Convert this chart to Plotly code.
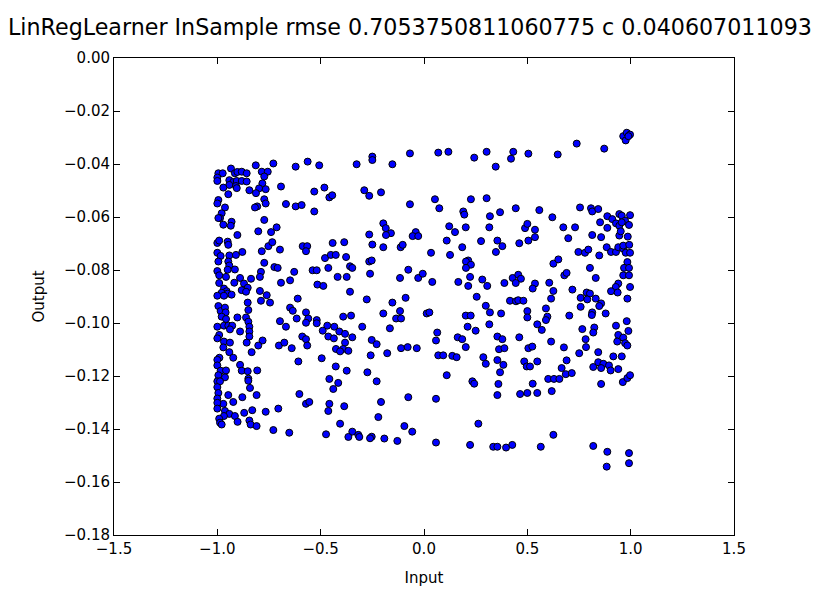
import plotly.graph_objects as go

# points, grouped by region of the plot
x_left_top = [-0.995, -0.974, -1.000, -1.000, -0.934, -0.915, -0.903, -0.882, -0.858, -0.942,
              -0.923, -0.906, -0.882, -0.858, -0.942, -0.910, -0.906, -0.971, -0.947, -0.814,
              -0.729, -0.785, -0.756, -0.773, -0.782, -0.798, -0.766, -0.845, -0.813, -0.692,
              -0.621, -0.563, -0.995, -1.000, -0.963, -0.773, -0.766, -0.807, -0.818, -0.668,
              -0.621, -0.592, -0.979, -0.987, -0.995, -0.773, -0.931, -0.971, -0.935, -0.713,
              -0.802, -0.740, -0.903]
y_left_top = [-0.0435, -0.0435, -0.0451, -0.0464, -0.0417, -0.0435, -0.0430, -0.0429, -0.0435, -0.0461,
              -0.0468, -0.0464, -0.0464, -0.0466, -0.0479, -0.0483, -0.0491, -0.0489, -0.0514, -0.0405,
              -0.0398, -0.0429, -0.0429, -0.0447, -0.0473, -0.0492, -0.0495, -0.0499, -0.0510, -0.0485,
              -0.0410, -0.0391, -0.0536, -0.0549, -0.0564, -0.0533, -0.0549, -0.0560, -0.0564, -0.0551,
              -0.0560, -0.0555, -0.0586, -0.0604, -0.0604, -0.0611, -0.0618, -0.0629, -0.0633, -0.0639,
              -0.0654, -0.0657, -0.0668]

x_left_mid = [-1.000, -0.991, -0.950, -0.947, -1.000, -0.984, -0.942, -0.910, -0.879, -0.995,
              -0.947, -0.942, -1.000, -0.991, -0.950, -0.915, -0.958, -0.785, -0.753, -0.734,
              -0.697, -0.587, -0.565, -0.571, -0.773, -0.724, -0.708, -0.789, -0.794, -0.628,
              -0.648, -0.692, -0.837, -0.890, -0.918, -0.991, -0.871, -0.853, -0.882, -0.861,
              -0.968, -0.955, -0.979, -0.950, -0.931, -1.000, -0.968, -0.794, -0.761, -0.789,
              -0.745, -0.611, -0.853, -0.995, -0.984, -0.963, -0.960, -0.850, -0.648, -0.635,
              -0.979, -0.958, -0.903, -0.861, -0.850, -0.616, -0.571, -0.560, -0.571, -0.697,
              -0.668, -1.000, -0.968, -0.947, -0.928, -0.939, -0.890, -0.845, -0.845, -0.845,
              -0.991, -1.000, -0.968, -0.939, -0.858, -0.781, -0.802, -0.702, -0.676, -0.640,
              -0.589, -0.571, -0.565, -0.971, -0.942, -0.834, -0.990, -0.923]
y_left_mid = [-0.0698, -0.0689, -0.0693, -0.0705, -0.0735, -0.0747, -0.0745, -0.0743, -0.0732, -0.0768,
              -0.0768, -0.0783, -0.0804, -0.0820, -0.0799, -0.0798, -0.0826, -0.0729, -0.0710, -0.0695,
              -0.0723, -0.0710, -0.0710, -0.0729, -0.0773, -0.0789, -0.0792, -0.0807, -0.0826, -0.0807,
              -0.0839, -0.0848, -0.0833, -0.0830, -0.0848, -0.0849, -0.0851, -0.0867, -0.0876, -0.0882,
              -0.0870, -0.0880, -0.0886, -0.0889, -0.0893, -0.0897, -0.0897, -0.0879, -0.0895, -0.0916,
              -0.0923, -0.0908, -0.0923, -0.0936, -0.0955, -0.0942, -0.0960, -0.0951, -0.0942, -0.0954,
              -0.0976, -0.0985, -0.0979, -0.0979, -0.0995, -0.0983, -0.0960, -0.0983, -0.0999, -0.0993,
              -0.1014, -0.1014, -0.1010, -0.1010, -0.1010, -0.1024, -0.1032, -0.1014, -0.1032, -0.1051,
              -0.1045, -0.1058, -0.1070, -0.1074, -0.1074, -0.1066, -0.1085, -0.1085, -0.1074, -0.1095,
              -0.1051, -0.1061, -0.1085, -0.1092, -0.1110, -0.1110, -0.1131, -0.1131]

x_left_low = [-1.000, -1.000, -0.890, -0.882, -0.984, -0.958, -0.853, -0.807, -0.995, -0.963,
              -0.850, -0.850, -1.000, -0.987, -1.000, -0.842, -0.995, -0.947, -0.810, -0.879,
              -1.000, -0.923, -0.971, -1.000, -1.000, -0.963, -0.942, -0.915, -0.968, -0.991,
              -0.987, -0.979, -0.902, -0.870, -0.831, -0.766, -0.705, -0.845, -0.839, -0.810,
              -0.729, -0.652, -0.608, -0.603, -0.571, -0.555]
y_left_low = [-0.1139, -0.1160, -0.1158, -0.1180, -0.1180, -0.1179, -0.1182, -0.1179, -0.1197, -0.1205,
              -0.1210, -0.1218, -0.1220, -0.1220, -0.1242, -0.1245, -0.1264, -0.1272, -0.1272, -0.1280,
              -0.1285, -0.1298, -0.1305, -0.1301, -0.1323, -0.1332, -0.1343, -0.1351, -0.1351, -0.1361,
              -0.1376, -0.1383, -0.1373, -0.1339, -0.1329, -0.1335, -0.1323, -0.1368, -0.1383, -0.1389,
              -0.1404, -0.1414, -0.1145, -0.1268, -0.1305, -0.1298]

x_cl_top = [-0.507, -0.326, -0.250, -0.250, -0.153, -0.068, -0.531, -0.482, -0.458, -0.444,
            -0.289, -0.265, -0.208, -0.068, -0.531, -0.197, -0.185, -0.160, -0.184, -0.265,
            -0.040, -0.055, -0.028]
y_cl_top = [-0.0405, -0.0401, -0.0372, -0.0385, -0.0401, -0.0360, -0.0504, -0.0489, -0.0526, -0.0518,
            -0.0499, -0.0520, -0.0507, -0.0552, -0.0579, -0.0624, -0.0642, -0.0661, -0.0668, -0.0666,
            -0.0657, -0.0672, -0.0672]

x_cl_mid = [-0.442, -0.386, -0.250, -0.197, -0.113, -0.103, -0.479, -0.451, -0.427, -0.377,
            -0.539, -0.519, -0.463, -0.358, -0.347, -0.265, -0.253, -0.261, -0.418, -0.374,
            -0.516, -0.487, -0.076, -0.116, -0.028, -0.358, -0.277, -0.089, -0.153, -0.116,
            -0.197, -0.135, -0.111, -0.165, -0.391, -0.353, -0.519, -0.519, -0.468, -0.434,
            -0.490, -0.410, -0.382, -0.347, -0.299, -0.463, -0.436, -0.253, -0.229, -0.382,
            -0.426, -0.391, -0.406, -0.366, -0.258, -0.178, -0.111, -0.079, -0.035, -0.495]
y_cl_mid = [-0.0698, -0.0695, -0.0704, -0.0714, -0.0714, -0.0705, -0.0755, -0.0743, -0.0743, -0.0751,
            -0.0801, -0.0801, -0.0792, -0.0786, -0.0792, -0.0768, -0.0764, -0.0814, -0.0826, -0.0826,
            -0.0855, -0.0860, -0.0799, -0.0830, -0.0830, -0.0882, -0.0911, -0.0905, -0.0923, -0.0955,
            -0.0964, -0.0983, -0.0983, -0.1020, -0.0976, -0.0972, -0.0989, -0.1001, -0.1010, -0.1014,
            -0.1029, -0.1032, -0.1041, -0.1054, -0.1014, -0.1051, -0.1058, -0.1064, -0.1080, -0.1074,
            -0.1098, -0.1098, -0.1107, -0.1105, -0.1122, -0.1114, -0.1095, -0.1091, -0.1095, -0.1133]

x_cl_low = [-0.427, -0.374, -0.274, -0.458, -0.415, -0.439, -0.229, -0.458, -0.463, -0.386,
            -0.208, -0.076, -0.221, -0.406, -0.474, -0.347, -0.318, -0.366, -0.313, -0.253,
            -0.261, -0.192, -0.129, -0.095, -0.057]
y_cl_low = [-0.1164, -0.1180, -0.1186, -0.1211, -0.1226, -0.1249, -0.1220, -0.1305, -0.1332, -0.1314,
            -0.1298, -0.1280, -0.1355, -0.1380, -0.1420, -0.1410, -0.1422, -0.1430, -0.1430, -0.1429,
            -0.1435, -0.1436, -0.1445, -0.1389, -0.1410]

x_cr_top = [0.069, 0.118, 0.243, 0.303, 0.347, 0.432, 0.421, 0.505, 0.053, 0.074,
            0.227, 0.303, 0.190, 0.195, 0.319, 0.368, 0.444, 0.122, 0.150, 0.202,
            0.316, 0.489, 0.500]
y_cr_top = [-0.0357, -0.0354, -0.0376, -0.0354, -0.0410, -0.0354, -0.0380, -0.0361, -0.0533, -0.0567,
            -0.0533, -0.0529, -0.0579, -0.0591, -0.0597, -0.0582, -0.0567, -0.0635, -0.0657, -0.0639,
            -0.0639, -0.0642, -0.0626]

x_cr_mid = [0.110, 0.276, 0.355, 0.379, 0.461, 0.505, 0.034, 0.126, 0.185, 0.348,
            0.214, 0.203, 0.227, 0.203, -0.006, 0.040, 0.166, 0.223, 0.214, 0.282,
            0.306, 0.389, 0.429, 0.456, 0.469, 0.444, 0.255, 0.416, 0.445, 0.456,
            0.481, 0.299, 0.319, 0.373, 0.500, 0.500, 0.013, 0.026, 0.202, 0.226,
            0.211, 0.250, 0.316, 0.064, 0.058, 0.163, 0.185, 0.355, 0.379, 0.461,
            0.202, 0.363, 0.389, 0.505, 0.069, 0.093, 0.137, 0.158, 0.287, 0.355]
y_cr_mid = [-0.0689, -0.0691, -0.0689, -0.0710, -0.0699, -0.0689, -0.0735, -0.0743, -0.0714, -0.0732,
            -0.0764, -0.0768, -0.0780, -0.0792, -0.0814, -0.0845, -0.0845, -0.0826, -0.0860, -0.0836,
            -0.0860, -0.0849, -0.0830, -0.0818, -0.0833, -0.0849, -0.0901, -0.0916, -0.0918, -0.0914,
            -0.0916, -0.0935, -0.0960, -0.0964, -0.0955, -0.0979, -0.0964, -0.0960, -0.0972, -0.0972,
            -0.1014, -0.1029, -0.1005, -0.1036, -0.1066, -0.1054, -0.1061, -0.1051, -0.1061, -0.1054,
            -0.1091, -0.1099, -0.1095, -0.1095, -0.1122, -0.1122, -0.1124, -0.1129, -0.1129, -0.1140]

x_cr_low = [0.299, 0.384, 0.485, 0.497, 0.513, 0.110, 0.234, 0.243, 0.368, 0.360,
            0.355, 0.465, 0.500, 0.058, 0.263, 0.058, 0.223, 0.335, 0.355, 0.397,
            0.427]
y_cr_low = [-0.1154, -0.1158, -0.1145, -0.1164, -0.1164, -0.1197, -0.1220, -0.1229, -0.1186, -0.1230,
            -0.1272, -0.1268, -0.1264, -0.1286, -0.1380, -0.1451, -0.1460, -0.1467, -0.1467, -0.1470,
            -0.1460]

x_right_top = [0.647, 0.739, 0.872, 0.964, 0.981, 0.997, 0.976, 0.989, 0.558, 0.621,
               0.755, 0.808, 0.814, 0.843, 0.887, 0.852, 0.911, 0.945, 0.957, 0.997,
               0.973, 0.929, 0.945, 0.957, 0.992, 0.887, 0.537, 0.674, 0.731, 0.814,
               0.857, 0.537, 0.698, 0.945, 0.986, 0.952]
y_right_top = [-0.0364, -0.0323, -0.0342, -0.0295, -0.0282, -0.0289, -0.0311, -0.0295, -0.0574, -0.0601,
               -0.0564, -0.0567, -0.0579, -0.0570, -0.0597, -0.0620, -0.0608, -0.0589, -0.0595, -0.0593,
               -0.0614, -0.0624, -0.0633, -0.0620, -0.0630, -0.0641, -0.0648, -0.0639, -0.0639, -0.0668,
               -0.0676, -0.0676, -0.0680, -0.0670, -0.0674, -0.0654]

x_right_mid = [0.747, 0.779, 0.795, 0.848, 0.884, 0.905, 0.929, 0.940, 0.964, 0.976,
               0.997, 0.964, 0.993, 0.984, 0.626, 0.650, 0.803, 0.968, 0.992, 0.679,
               0.690, 0.831, 0.964, 0.992, 0.537, 0.526, 0.606, 0.626, 0.718, 0.940,
               0.928, 0.905, 0.937, 0.997, 0.787, 0.803, 0.758, 0.790, 0.831, 0.615,
               0.984, 0.758, 0.857, 0.848, 0.590, 0.814, 0.812, 0.879, 0.703, 0.597,
               0.590, 0.981, 0.548, 0.570, 0.766, 0.824, 0.819, 0.929, 0.989, 0.940,
               0.964, 0.782, 0.935, 0.973, 0.984, 0.615, 0.524, 0.677, 0.784, 0.751,
               0.843, 0.916, 0.957]
y_right_mid = [-0.0732, -0.0735, -0.0723, -0.0745, -0.0714, -0.0732, -0.0732, -0.0714, -0.0720, -0.0735,
               -0.0735, -0.0708, -0.0705, -0.0770, -0.0776, -0.0760, -0.0792, -0.0792, -0.0792, -0.0820,
               -0.0811, -0.0830, -0.0820, -0.0820, -0.0851, -0.0870, -0.0848, -0.0879, -0.0874, -0.0851,
               -0.0864, -0.0880, -0.0885, -0.0864, -0.0885, -0.0889, -0.0905, -0.0911, -0.0908, -0.0908,
               -0.0908, -0.0939, -0.0926, -0.0936, -0.0945, -0.0960, -0.0970, -0.0964, -0.0972, -0.0976,
               -0.0989, -0.0993, -0.1005, -0.1026, -0.1023, -0.1017, -0.1036, -0.1010, -0.1030, -0.1045,
               -0.1055, -0.1061, -0.1070, -0.1076, -0.1085, -0.1070, -0.1089, -0.1092, -0.1091, -0.1114,
               -0.1110, -0.1126, -0.1126]

x_right_low = [0.548, 0.690, 0.666, 0.686, 0.715, 0.601, 0.629, 0.655, 0.526, 0.548,
               0.618, 0.819, 0.843, 0.868, 0.895, 0.857, 0.903, 0.940, 0.857, 0.962,
               0.984, 0.997, 0.626, 0.565, 0.819, 0.887, 0.884, 0.992, 0.992]
y_right_low = [-0.1145, -0.1141, -0.1170, -0.1193, -0.1189, -0.1211, -0.1211, -0.1211, -0.1229, -0.1264,
               -0.1257, -0.1166, -0.1148, -0.1154, -0.1160, -0.1170, -0.1179, -0.1174, -0.1230, -0.1223,
               -0.1208, -0.1197, -0.1422, -0.1467, -0.1464, -0.1486, -0.1542, -0.1491, -0.1529]

xs = (x_left_top + x_left_mid + x_left_low + x_cl_top + x_cl_mid + x_cl_low
      + x_cr_top + x_cr_mid + x_cr_low + x_right_top + x_right_mid + x_right_low)
ys = (y_left_top + y_left_mid + y_left_low + y_cl_top + y_cl_mid + y_cl_low
      + y_cr_top + y_cr_mid + y_cr_low + y_right_top + y_right_mid + y_right_low)

title_text = "LinRegLearner InSample rmse 0.7053750811060775 c 0.040607011093"

font = "DejaVu Sans"

fig = go.Figure(
    go.Scatter(
        x=xs,
        y=ys,
        mode="markers",
        marker=dict(size=7, color="#0000ff", line=dict(color="black", width=1)),
        showlegend=False,
    )
)

axis_style = dict(
    showline=True,
    linecolor="black",
    linewidth=1,
    mirror="ticks",
    ticks="inside",
    ticklen=6,
    tickcolor="black",
    showgrid=False,
    zeroline=False,
    tickfont=dict(family=font, size=15, color="black"),
)

# the page body adds an 8px offset, so the figure is a bit smaller than the window
fig.update_layout(
    width=819,
    height=588,
    margin=dict(l=106, r=93, t=50, b=58),
    paper_bgcolor="white",
    plot_bgcolor="white",
    font=dict(family=font, color="black"),
    xaxis=dict(
        range=[-1.5, 1.5],
        dtick=0.5,
        tickformat=".1f",
        title=dict(text="Input", font=dict(size=15)),
        **axis_style,
    ),
    yaxis=dict(
        range=[-0.18, 0.0],
        dtick=0.02,
        tickformat=".2f",
        title=dict(text="Output", font=dict(size=15)),
        **axis_style,
    ),
)

# long title starting near the left edge, filling the full width
fig.add_annotation(
    text=title_text,
    xref="paper",
    yref="paper",
    x=-0.174,
    y=1.065,
    xanchor="left",
    yanchor="middle",
    showarrow=False,
    font=dict(family=font, size=22.2, color="black"),
)

fig.write_html("out.html")
